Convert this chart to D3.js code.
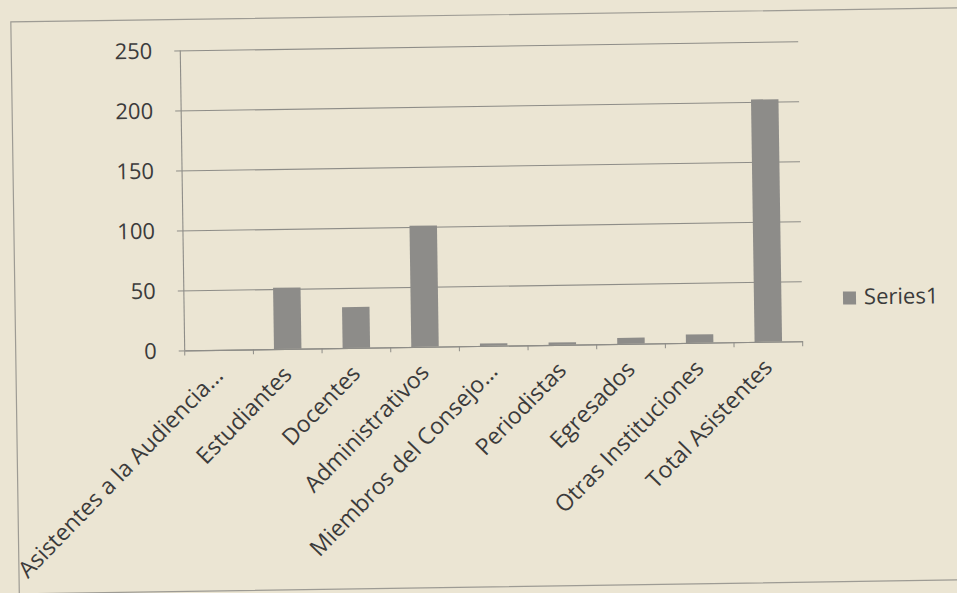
<!DOCTYPE html>
<html>
<head>
<meta charset="utf-8">
<script src="https://cdn.jsdelivr.net/npm/d3@7"></script>
<style>
  html, body { margin: 0; padding: 0; background: #ebe5d3; }
  svg { display: block; }
  text { font-family: "Open Sans", sans-serif; fill: #3b3b3b; }
</style>
</head>
<body>
<div id="chart"></div>
<script>
const categories = [
  "Asistentes a la Audiencia...",
  "Estudiantes",
  "Docentes",
  "Administrativos",
  "Miembros del Consejo...",
  "Periodistas",
  "Egresados",
  "Otras Instituciones",
  "Total Asistentes"
];
const series1 = [0, 51, 34, 101, 2, 2, 5, 7, 202];
const yTicks = [0, 50, 100, 150, 200, 250];
const seriesName = "Series1";

window.addEventListener("DOMContentLoaded", () => {
  let width = 957, height = 593;
  let left = 184, right = 802, top = 46, bottom = 346;

  let svg = d3.select("#chart").append("svg")
    .attr("width", width)
    .attr("height", height);

  svg.append("rect")
    .attr("width", width)
    .attr("height", height)
    .attr("fill", "#ebe5d3");

  // the scan is a little tilted
  let g = svg.append("g")
    .attr("transform", "rotate(-0.85, 480, 300)");

  // chart frame
  g.append("rect")
    .attr("x", 15)
    .attr("y", 15)
    .attr("width", 990)
    .attr("height", 572)
    .attr("fill", "none")
    .attr("stroke", "#9d9b94")
    .attr("stroke-width", 1.2);

  let x = d3.scaleBand()
    .domain(categories)
    .range([left, right])
    .paddingInner(0.6)
    .paddingOuter(0.3);

  let xCat = d3.scaleBand()
    .domain(categories)
    .range([left, right])
    .padding(0);

  let y = d3.scaleLinear()
    .domain([0, 250])
    .range([bottom, top]);

  // gridlines + tick marks
  g.append("g")
    .attr("transform", `translate(${left},0)`)
    .call(d3.axisLeft(y).tickValues(yTicks).tickSize(-(right - left)).tickSizeOuter(0).tickFormat(""))
    .call(ax => ax.select(".domain").remove())
    .call(ax => ax.selectAll("line").attr("stroke", "#8e8d88").attr("stroke-width", 1.1).attr("x1", -6));

  g.append("line")
    .attr("x1", left).attr("x2", left)
    .attr("y1", y(250)).attr("y2", y(0))
    .attr("stroke", "#8e8d88")
    .attr("stroke-width", 1.1);

  g.selectAll(".ytick")
    .data(yTicks)
    .enter().append("text")
    .attr("class", "ytick")
    .attr("x", 156)
    .attr("y", d => y(d))
    .attr("dy", "0.36em")
    .attr("text-anchor", "end")
    .attr("font-size", 22)
    .text(d => d);

  // bars
  g.selectAll(".bar")
    .data(series1)
    .enter().append("rect")
    .attr("class", "bar")
    .attr("x", (d, i) => x(categories[i]))
    .attr("y", d => y(d))
    .attr("width", x.bandwidth())
    .attr("height", d => y(0) - y(d))
    .attr("fill", "#8d8c89");

  // category axis
  g.append("g")
    .attr("transform", `translate(0,${y(0)})`)
    .call(d3.axisBottom(xCat).tickSize(0).tickFormat(""))
    .call(ax => ax.select(".domain").attr("stroke", "#8e8d88").attr("stroke-width", 1.1));

  let bounds = categories.map(c => xCat(c)).concat([right]);
  g.selectAll(".xtick")
    .data(bounds)
    .enter().append("line")
    .attr("class", "xtick")
    .attr("x1", d => d).attr("x2", d => d)
    .attr("y1", y(0)).attr("y2", y(0) + 5)
    .attr("stroke", "#8e8d88");

  g.selectAll(".xlabel")
    .data(categories)
    .enter().append("text")
    .attr("class", "xlabel")
    .attr("text-anchor", "end")
    .attr("font-size", 23)
    .attr("transform", d => `translate(${xCat(d) + xCat.bandwidth() / 2 + 5},${y(0) + 27}) rotate(-45)`)
    .text(d => d);

  // legend
  g.append("rect")
    .attr("x", 843)
    .attr("y", 297)
    .attr("width", 13)
    .attr("height", 13)
    .attr("fill", "#8d8c89");

  g.append("text")
    .attr("x", 864)
    .attr("y", 310)
    .attr("font-size", 22)
    .text(seriesName);
});
</script>
</body>
</html>
